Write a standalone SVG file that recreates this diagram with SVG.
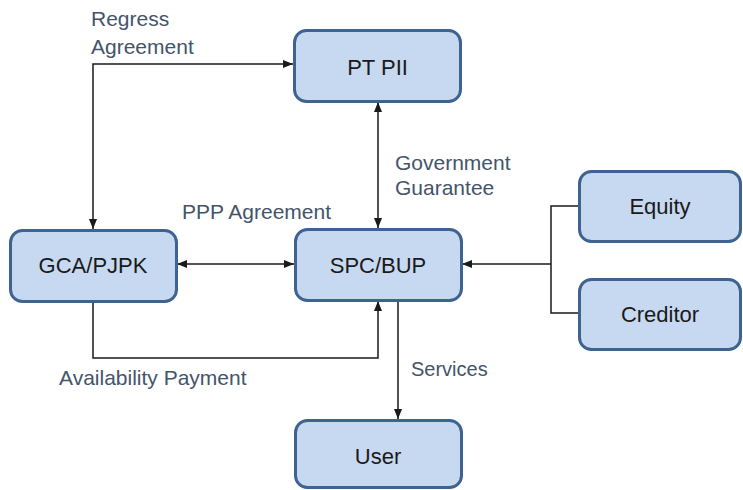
<svg xmlns="http://www.w3.org/2000/svg" width="743" height="490" viewBox="0 0 743 490">
<style>
.node rect{fill:#C7D9F0;stroke:#3F6390;stroke-width:3}
.node text{font-family:"Liberation Sans",Arial,sans-serif;font-size:22px;fill:#1a1a1a;text-anchor:middle}
.lbl{font-family:"Liberation Sans",Arial,sans-serif;font-size:21px;fill:#44546A}
.conn path{fill:none;stroke:#1a1a1a;stroke-width:1.5}
</style>
<defs>
<marker id="arr" markerUnits="userSpaceOnUse" markerWidth="10" markerHeight="10" viewBox="0 0 10 10" refX="10" refY="5" orient="auto-start-reverse">
<path d="M0,1 L10,5 L0,9 Z" fill="#1a1a1a"/>
</marker>
</defs>
<rect width="743" height="490" fill="#ffffff"/>
<g id="connectors" class="conn">
<path d="M93,229 L93,64 L293,64" marker-start="url(#arr)" marker-end="url(#arr)"/>
<path d="M378,102 L378,228" marker-start="url(#arr)" marker-end="url(#arr)"/>
<path d="M177,264 L294,264" marker-start="url(#arr)" marker-end="url(#arr)"/>
<path d="M93,302 L93,358 L378,358 L378,301" marker-end="url(#arr)"/>
<path d="M398,301 L398,419" marker-end="url(#arr)"/>
<path d="M578,206 L551,206 L551,313 L578,313"/>
<path d="M551,264 L462,264" marker-end="url(#arr)"/>
</g>
<g id="labels">
<text class="lbl" x="91" y="26">Regress</text>
<text class="lbl" x="91" y="54">Agreement</text>
<text class="lbl" x="182" y="219">PPP Agreement</text>
<text class="lbl" x="395" y="170">Government</text>
<text class="lbl" x="395" y="195">Guarantee</text>
<text class="lbl" x="59" y="385">Availability Payment</text>
<text class="lbl" x="411" y="376" style="font-size:20px">Services</text>
</g>
<g id="pt-pii" class="node"><rect x="294.5" y="30.5" width="166" height="71" rx="12"/><text x="377.5" y="75">PT PII</text></g>
<g id="gca-pjpk" class="node"><rect x="10.5" y="230.5" width="166" height="71" rx="12"/><text x="93" y="273">GCA/PJPK</text></g>
<g id="spc-bup" class="node"><rect x="295.5" y="229.5" width="166" height="71" rx="12"/><text x="378" y="273">SPC/BUP</text></g>
<g id="equity" class="node"><rect x="579.5" y="171.5" width="161" height="70" rx="12"/><text x="660" y="214">Equity</text></g>
<g id="creditor" class="node"><rect x="579.5" y="279.5" width="161" height="70" rx="12"/><text x="660" y="322">Creditor</text></g>
<g id="user" class="node"><rect x="295.5" y="420.5" width="166" height="67" rx="12"/><text x="378" y="464">User</text></g>
</svg>
